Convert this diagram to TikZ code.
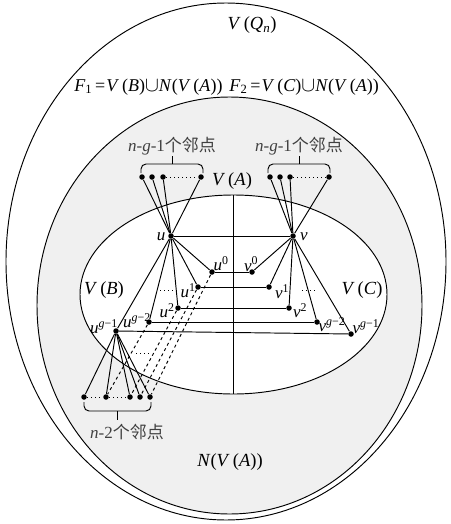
\documentclass[tikz,border=0pt]{standalone}
\usepackage{fontspec}
\usepackage{graphicx}
\setmainfont{Liberation Serif}
\newfontfamily\cjk{Noto Sans CJK SC}
\usetikzlibrary{shapes.geometric}
\newcommand{\Cupp}{\scalebox{1.2}{$\cup$}}
\newcommand{\Sp}[2]{\textit{#1}\textsuperscript{#2}}
\begin{document}
\begin{tikzpicture}[x=1pt,y=-1pt,line width=0.95pt,
  dot/.style={circle,fill=black,inner sep=0pt,minimum size=5.5pt},
  lbl/.style={inner sep=0pt,font=\fontsize{17}{17}\selectfont},
  big/.style={inner sep=0pt,font=\fontsize{18.5}{18.5}\selectfont},
  fml/.style={inner sep=0pt,font=\fontsize{18}{18}\selectfont},
  cjklbl/.style={inner sep=0pt,font=\fontsize{17}{17}\selectfont,text=black!75},
  region/.style={ellipse,draw,inner sep=0pt,outer sep=0pt},
  brk/.style={rounded corners=5pt},
  sparse/.style={dash pattern=on 1pt off 3pt}]
\useasboundingbox (0,0) rectangle (450,524);
% regions
\node[region,minimum width=440pt,minimum height=517pt] (Q) at (226,261.5) {};
\node[region,fill=gray!12,minimum width=385pt,minimum height=417pt] (N) at (229.5,305.5) {};
\node[region,fill=white,minimum width=307pt,minimum height=199pt] (A) at (233.5,294.5) {};
\draw (A.north) -- (A.south);
% region labels
\node[big] (lQ) at (252,25) {\textit{V}\,(\textit{Q}\textsubscript{\textit{n}})};
\node[fml,anchor=east] (lF1) at (223,87) {\textit{F}\textsubscript{1}\,=\kern1pt\textit{V}\,(\textit{B})\Cupp\textit{N}(\textit{V}\,(\textit{A}))};
\node[fml,anchor=west] (lF2) at (229,87) {\textit{F}\textsubscript{2}\,=\kern1pt\textit{V}\,(\textit{C})\Cupp\textit{N}(\textit{V}\,(\textit{A}))};
\node[big] (lA) at (232,181) {\textit{V}\,(\textit{A})};
\node[big] (lB) at (104,290) {\textit{V}\,(\textit{B})};
\node[big] (lC) at (362,290) {\textit{V}\,(\textit{C})};
\node[big] (lN) at (230,462) {\textit{N}(\textit{V}\,(\textit{A}))};
% main vertices
\node[dot] (u) at (171,236) {};
\node[dot] (v) at (293,236) {};
\node[dot] (u0) at (212,272) {};
\node[dot] (v0) at (252,272) {};
\node[dot] (u1) at (198,287) {};
\node[dot] (v1) at (269,287) {};
\node[dot] (u2) at (178,308) {};
\node[dot] (v2) at (289,308) {};
\node[dot] (ug2) at (149,322) {};
\node[dot] (vg2) at (317,322) {};
\node[dot] (ug1) at (116,331) {};
\node[dot] (vg1) at (351,334) {};
% vertex labels
\node[lbl] (lu) at (161,237) {\textit{u}};
\node[lbl] (lv) at (304,237) {\textit{v}};
\node[lbl] (lu0) at (221,264) {\Sp{u}{0}};
\node[lbl] (lv0) at (251,264) {\Sp{v}{0}};
\node[lbl] (lu1) at (188,291) {\Sp{u}{1}};
\node[lbl] (lv1) at (282,292) {\Sp{v}{1}};
\node[lbl] (lu2) at (167,311) {\Sp{u}{2}};
\node[lbl] (lv2) at (300,311) {\Sp{v}{2}};
\node[lbl] (lug2) at (137,321) {\Sp{u}{\textit{g}−2}};
\node[lbl] (lvg2) at (332,325) {\Sp{v}{\textit{g}−2}};
\node[lbl] (lug1) at (104,327) {\Sp{u}{\textit{g}−1}};
\node[lbl] (lvg1) at (366,327) {\Sp{v}{\textit{g}−1}};
% top neighbours of u
\node[dot] (a1) at (142,177) {};
\node[dot] (a2) at (152,177) {};
\node[dot] (a3) at (163,177) {};
\node[dot] (a4) at (201,177) {};
% top neighbours of v
\node[dot] (c1) at (270,177) {};
\node[dot] (c2) at (280,177) {};
\node[dot] (c3) at (290,177) {};
\node[dot] (c4) at (329,177) {};
% bottom neighbours of u^{g-1}
\node[dot] (b1) at (84,397) {};
\node[dot] (b2) at (106,397) {};
\node[dot] (b3) at (130,397) {};
\node[dot] (b4) at (140,397) {};
\node[dot] (b5) at (150,397) {};
% edges
\foreach \t in {a1,a2,a3,a4} \draw (u) -- (\t);
\foreach \t in {c1,c2,c3,c4} \draw (v) -- (\t);
\draw[sparse] (a3) -- (a4);
\draw[sparse] (c3) -- (c4);
\draw[sparse] (b1) -- (b2) -- (b3);
\draw (u) -- (v);
\foreach \t in {u0,u1,u2,ug2,ug1} \draw (u) -- (\t);
\foreach \t in {v0,v1,v2,vg2,vg1} \draw (v) -- (\t);
\draw (u0) -- (v0);
\draw (u1) -- (v1);
\draw (u2) -- (v2);
\draw (ug2) -- (vg2);
\draw (ug1) -- (vg1);
\foreach \t in {b1,b2,b3,b4,b5} \draw (ug1) -- (\t);
\draw[dashed] (u0) -- (b5);
\draw[dashed] (u1) -- (b4);
\draw[dashed] (u2) -- (b3);
\draw[dashed] (ug2) -- (b2);
\draw[sparse] (160,290) -- (173,290);
\draw[sparse] (302,290) -- (315,290);
\draw[sparse] (136,353) -- (149,353);
% braces
\coordinate (ta1) at (141,173); \coordinate (ta2) at (203,173);
\draw[brk] (ta1) -- (141,164) -- (203,164) -- (ta2);
\draw (172,164) -- (172,156);
\coordinate (tc1) at (268,173); \coordinate (tc2) at (330,173);
\draw[brk] (tc1) -- (268,164) -- (330,164) -- (tc2);
\draw (299,164) -- (299,156);
\coordinate (tb1) at (84,402); \coordinate (tb2) at (151,402);
\draw[brk] (tb1) -- (84,411) -- (151,411) -- (tb2);
\draw (117,411) -- (117,420);
% neighbour count labels
\node[cjklbl] (na) at (172,146) {\textit{n}-\textit{g}-1{\cjk 个邻点}};
\node[cjklbl] (nc) at (299,146) {\textit{n}-\textit{g}-1{\cjk 个邻点}};
\node[cjklbl] (nb) at (127,432) {\textit{n}-2{\cjk 个邻点}};
\end{tikzpicture}
\end{document}
